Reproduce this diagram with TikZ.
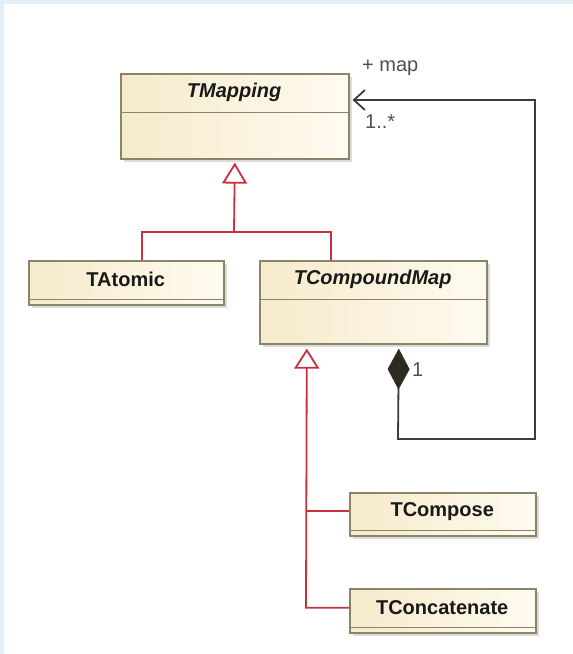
\documentclass[tikz,border=0pt]{standalone}
\usepackage{fontspec}
\setmainfont{Liberation Sans}
\usetikzlibrary{arrows.meta,shadows}

\definecolor{frameblue}{HTML}{E3F0F7}
\definecolor{boxleft}{HTML}{F6EACB}
\definecolor{boxright}{HTML}{FFFBF0}
\definecolor{boxedge}{HTML}{8A8468}
\definecolor{genred}{HTML}{C8303E}
\definecolor{assocgrey}{HTML}{3C3C3C}
\definecolor{diamondfill}{HTML}{2E2A20}
\definecolor{labelgrey}{HTML}{505050}

\tikzset{
  classbox/.style={draw=boxedge, line width=1.6pt, left color=boxleft, right color=boxright,
    inner sep=0pt, drop shadow={shadow xshift=3pt, shadow yshift=-3pt, fill=black!40, opacity=0.35}},
  classname/.style={inner sep=0pt, text=black!90,
    font=\fontsize{20}{23}\selectfont\bfseries},
  abstractname/.style={classname, font=\fontsize{20}{23}\selectfont\bfseries\itshape},
  classline/.style={draw=boxedge, line width=1.5pt},
  genline/.style={draw=genred, line width=1.8pt},
  assocline/.style={draw=assocgrey, line width=1.8pt},
  rolelabel/.style={inner sep=0pt, anchor=west, text=labelgrey, font=\fontsize{20}{23}\selectfont},
}

% class box: name, x, top y, width, height, name-row height, name style, text
\newcommand\umlclass[8]{%
  \node[classbox, minimum width=#4pt, minimum height=#5pt, anchor=north west] (#1) at (#2,-#3) {};
  \node[#7, minimum width=#4pt, minimum height=#6pt, anchor=north west] (#1-n) at (#2,-#3) {#8};
  \draw[classline] (#1-n.south west) -- (#1-n.south east);
}

\begin{document}
\begin{tikzpicture}[x=1pt,y=1pt]
  % page and frame edges
  \useasboundingbox (0,0) rectangle (573,-654);
  \fill[white] (0,0) rectangle (573,-654);
  \fill[frameblue] (0,0) rectangle (573,-4);
  \fill[frameblue] (0,0) rectangle (4,-654);

  % classes
  \umlclass{tmapping}{120}{73}{228}{85}{39}{abstractname}{TMapping}
  \umlclass{tatomic}{28}{260}{195}{44}{39}{classname}{TAtomic}
  \umlclass{tcompound}{259}{260}{227}{83}{39}{abstractname}{TCompoundMap}
  \umlclass{tcompose}{349}{492}{186}{43}{38}{classname}{TCompose}
  \umlclass{tconcat}{349}{588}{186}{44}{39}{classname}{TConcatenate}

  % generalization: TAtomic, TCompoundMap -> TMapping
  \coordinate (hubA) at (234,-232);
  \coordinate (dropA) at (142,-232);
  \coordinate (dropB) at (331,-232);
  \draw[genline, {Triangle[open, length=21pt, width=25pt, line width=1.8pt]}-]
    ([yshift=-3pt]tmapping.south) -- (hubA);
  \draw[genline] (dropA |- tatomic.north) -- (dropA) -- (dropB) -- (dropB |- tcompound.north);

  % generalization: TCompose, TConcatenate -> TCompoundMap
  \coordinate (spineB) at (306,-609);
  \draw[genline, {Triangle[open, length=20pt, width=25pt, line width=1.8pt]}-]
    ([xshift=-66.5pt,yshift=-4pt]tcompound.south) -- (spineB |- tconcat-n.west) -- (tconcat-n.west);
  \draw[genline] (spineB |- tcompose-n.west) -- (tcompose-n.west);

  % composition: TCompoundMap owns TMapping
  \coordinate (loopA) at (398,-439);
  \coordinate (loopB) at (535,-439);
  \coordinate (loopC) at (535,-100);
  \draw[assocline, {Diamond[length=41pt, width=22pt, fill=diamondfill, color=diamondfill]}-{Straight Barb[length=11pt, width=20pt, line width=1.8pt]}]
    ([xshift=25.5pt,yshift=-4pt]tcompound.south) -- (loopA) -- (loopB) -- (loopC)
    -- ([xshift=3pt]tmapping.east |- loopC);

  % role and multiplicity labels
  \node[rolelabel] (rolemap) at (362,-68) {+ map};
  \node[rolelabel] (multmap) at (365,-122) {1..*};
  \node[rolelabel] (multone) at (412,-370) {1};
\end{tikzpicture}
\end{document}
